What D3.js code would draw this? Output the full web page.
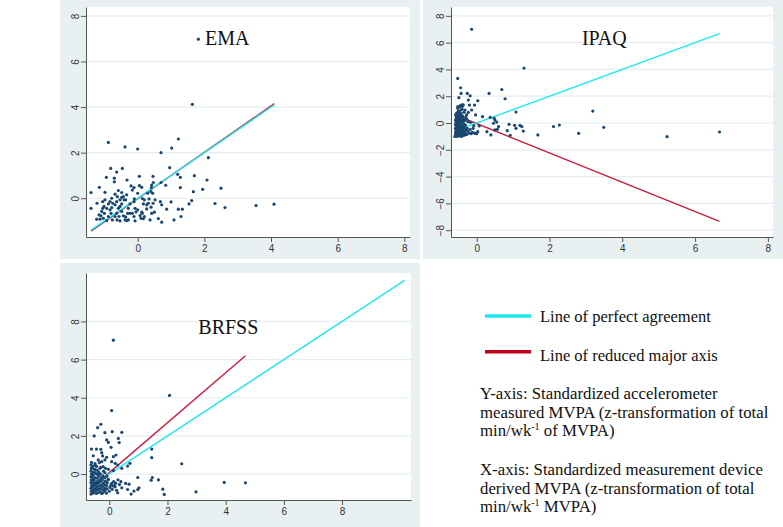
<!DOCTYPE html>
<html>
<head>
<meta charset="utf-8">
<script src="https://d3js.org/d3.v7.min.js"></script>
<style>
  body { margin: 0; background: #fff; }
  svg { display: block; }
</style>
<title>MVPA agreement</title>
</head>
<body>
<script>
// ---- data ----
var emaPoints = [
  [1.82,6.98],[1.64,4.12],[-0.88,2.45],[-0.38,2.25],[0,2.16],[0.70,2.0],[1.02,2.2],[1.22,2.6],
  [2.12,1.78],[0.96,1.34],[-0.81,1.31],[-0.46,1.31],[-0.63,1.15],[-0.94,0.92],[-0.70,0.88],
  [-0.70,0.72],[-0.32,0.8],[0.05,0.96],[0.46,0.96],[1.2,1.05],[1.28,0.92],[1.7,0.99],[2.08,0.8],
  [2.5,0.44],[1.95,0.39],[1.67,0.29],[1.28,0.47],[-1.15,0.48],[-0.98,0.26],[-1.4,0.25],[-1.4,-0.44],
  [-1.22,-0.22],[2.32,-0.23],[2.62,-0.41],[3.55,-0.32],[4.09,-0.26],[1.62,-0.1],[1.54,-0.25],
  [1.22,-0.48],[1.34,-0.48],[1.3,-0.8],[1.09,-0.95],[1.0,-0.16],[0.87,-0.48],[0.72,-1.05],
  [0.62,-0.89],[0.37,-0.95],[0.42,-0.66],[0.68,-0.15],[0.72,-0.29],[0.84,0.57],[0.7,0.69],
  [0.42,0.58],[0.47,0.69],[0.41,0.47],[0.4,0.29],[0.45,0.22],[0.3,0.22],[0.12,0.48],[0.05,0.55],
  [-0.11,0.47],[-0.16,0.36],[-0.2,0.54],[0,0.22],[-0.1,-0.03],[0.14,-0.01],[0.2,-0.07],[0.34,-0.03],
  [0.32,-0.22],[0.46,-0.22],[0.5,-0.61],[0.27,-0.47],[0.12,-0.61],[0.07,-0.76],[0.1,-0.88],
  [0.17,-0.9],[0,-0.51],[-0.08,-0.44],[-0.05,-0.6],[-0.16,-0.66],[-0.11,-0.15],[-0.23,-0.25],
  [-0.28,-0.44],[-0.3,-0.66],[-0.36,-0.82],[-0.38,-0.95],[-0.33,-0.98],[-0.43,-0.77],[-0.48,-0.58],
  [-0.53,-0.36],[-0.41,-0.07],[-0.43,0.07],[-0.48,0.25],[-0.48,0.04],[-0.53,-0.07],[-0.58,0.34],
  [-0.68,0.18],[-0.61,0.07],[-0.63,-0.15],[-0.68,-0.29],[-0.58,-0.44],[-0.63,-0.66],[-0.68,-0.8],
  [-0.56,-0.8],[-0.75,-0.22],[-0.78,-0.41],[-0.8,-0.66],[-0.76,-0.95],[-0.88,-0.8],[-0.83,-0.51],
  [-0.88,-0.25],[-0.93,-0.44],[-0.98,-0.07],[-1.0,-0.66],[-1.05,-0.44],[-1.08,-0.58],[-1.1,-0.77],
  [-1.13,-0.92],[-1.16,-0.73],[-1.03,-0.88],[-0.93,-0.98],[-1.01,-0.36],[-1.05,-0.15],[-0.83,-0.15],
  [-0.78,0],[-0.48,-0.25],[-0.33,0.15],[-0.36,-0.07],[-0.23,-0.66],[-0.11,-0.8],[-0.08,-0.99],
  [-0.53,-0.99],[-0.62,-0.95],[-1.23,-0.92],[-0.28,-0.95],[0.14,-0.66],[0.27,-0.29],[0.52,-0.07],
  [0.2,-0.8],[0.4,-0.39],[0.17,-0.25]
];

var ipaqPoints = [
  [-0.14,7.0],[1.3,4.1],[-0.52,3.33],[-0.44,2.63],[-0.43,2.21],[-0.26,2.21],[-0.18,2.03],[0.34,2.21],
  [0.69,2.5],[0.78,1.81],[-0.49,1.89],[-0.23,1.71],[0.03,1.66],[-0.2,1.34],[-0.06,1.34],[-0.39,1.27],
  [-0.52,1.22],[-0.46,1.22],[-0.32,0.97],[-0.14,0.97],[-0.43,0.97],[1.08,0.82],[3.19,0.89],
  [-0.23,0.79],[-0.28,0.6],[-0.03,0.6],[0.16,0.47],[0.37,0.42],[0.48,0.35],[0.5,0.22],[0.46,-0.02],
  [0.55,0.07],[0.07,-0.22],[0.03,-0.65],[-0.05,-0.77],[0.28,-0.65],[0.39,-0.89],[0.5,-0.52],
  [0.57,-0.47],[0.6,-0.27],[0.84,-0.57],[0.89,-0.1],[0.92,-0.92],[1.04,-0.17],[1.08,-0.4],
  [1.19,-0.17],[1.24,-0.27],[1.28,-0.6],[1.68,-0.89],[2.11,-0.27],[2.27,-0.15],[2.8,-0.77],
  [3.49,-0.32],[5.23,-1.02],[6.67,-0.67],
  [-0.6,-1.0],[-0.58,-0.9],[-0.57,-0.8],[-0.58,-0.7],[-0.56,-0.6],[-0.57,-0.5],[-0.58,-0.4],
  [-0.56,-0.3],[-0.57,-0.2],[-0.58,-0.1],[-0.57,0.0],[-0.56,0.1],[-0.58,0.2],[-0.57,0.3],
  [-0.56,0.45],[-0.58,0.6],[-0.55,0.75],[-0.53,-1.0],[-0.52,-0.85],[-0.53,-0.72],[-0.51,-0.6],
  [-0.52,-0.45],[-0.53,-0.35],[-0.51,-0.22],[-0.52,-0.05],[-0.53,0.08],[-0.5,0.2],[-0.52,0.35],
  [-0.51,0.5],[-0.53,0.65],[-0.5,0.9],[-0.52,1.1],[-0.48,-0.95],[-0.47,-0.8],[-0.46,-0.65],
  [-0.48,-0.5],[-0.47,-0.3],[-0.46,-0.15],[-0.48,0.0],[-0.47,0.15],[-0.45,0.3],[-0.47,0.45],
  [-0.46,0.6],[-0.48,0.8],[-0.45,1.3],[-0.43,-1.0],[-0.42,-0.88],[-0.41,-0.7],[-0.43,-0.55],
  [-0.42,-0.4],[-0.41,-0.25],[-0.43,-0.1],[-0.42,0.05],[-0.4,0.2],[-0.42,0.4],[-0.41,0.55],
  [-0.43,0.7],[-0.4,1.05],[-0.41,1.35],[-0.38,-0.95],[-0.37,-0.78],[-0.36,-0.6],[-0.38,-0.42],
  [-0.37,-0.28],[-0.35,-0.1],[-0.37,0.1],[-0.36,0.3],[-0.38,0.5],[-0.35,0.8],[-0.37,1.35],
  [-0.33,-0.9],[-0.32,-0.7],[-0.3,-0.5],[-0.33,-0.35],[-0.31,-0.15],[-0.32,0.2],[-0.3,0.45],
  [-0.27,-0.85],[-0.25,-0.6],[-0.26,-0.4],[-0.24,0.1],[-0.27,0.3],[-0.2,-0.75],[-0.18,-0.5],
  [-0.15,-0.8],[-0.12,-0.7],[-0.1,-0.4],[-0.05,-0.75],[0.0,-0.8],[-0.08,-0.2],[-0.17,0.05]
];

var brfssPoints = [
  [0.14,7.02],[2.07,4.12],[0.08,3.33],[-0.29,2.61],[-0.4,2.43],[-0.52,2.0],[-0.15,2.17],[0.1,2.22],
  [0.43,2.19],[-0.09,1.79],[-0.03,1.66],[0.31,1.87],[0.34,1.65],[0.06,1.4],[-0.61,1.31],[-0.44,1.31],
  [-0.29,1.3],[-0.26,1.12],[1.46,1.31],[1.46,0.86],[-0.55,0.96],[-0.23,0.95],[-0.09,0.88],[0.14,0.91],
  [0.23,1.0],[-0.38,0.74],[-0.26,0.65],[-0.15,0.74],[0.08,0.65],[0.2,0.56],[0.29,0.47],[0.71,0.56],
  [0.63,0.42],[2.49,0.54],[0.43,0.3],[-0.61,0.61],[-0.63,0.47],[-0.49,0.47],[-0.57,0.3],[-0.47,0.21],
  [-0.32,0.3],[-0.21,0.39],[-0.03,0.25],[0.14,0.18],[-0.15,0.07],[-0.38,0],[-0.55,-0.05],[0.98,-0.18],
  [1.48,-0.18],[1.44,-0.32],[1.69,-0.3],[0.4,-0.4],[0.56,-0.49],[0.68,-0.53],[0.43,-0.72],[0.63,-0.81],
  [0.75,-1.05],[0.29,-0.98],[0.85,-0.89],[0.98,-0.81],[1.02,-0.72],[1.84,-0.79],[1.89,-1.07],
  [2.98,-0.93],[3.95,-0.44],[4.68,-0.46],[-0.03,-0.28],[0.08,-0.49],[0.2,-0.67],[-0.15,-0.84],
  [-0.26,-1.02],
  [-0.63,-1.05],[-0.62,-0.9],[-0.63,-0.75],[-0.61,-0.6],[-0.63,-0.45],[-0.62,-0.3],[-0.63,-0.15],
  [-0.61,0.0],[-0.63,0.15],[-0.62,0.3],[-0.57,-1.0],[-0.56,-0.85],[-0.58,-0.7],[-0.55,-0.55],
  [-0.57,-0.4],[-0.56,-0.25],[-0.58,-0.1],[-0.55,0.1],[-0.57,0.4],[-0.52,-0.95],[-0.5,-0.78],
  [-0.51,-0.62],[-0.49,-0.48],[-0.52,-0.33],[-0.5,-0.18],[-0.48,0.05],[-0.5,0.25],[-0.49,0.55],
  [-0.45,-1.02],[-0.44,-0.86],[-0.43,-0.7],[-0.45,-0.55],[-0.42,-0.4],[-0.44,-0.22],[-0.43,0.0],
  [-0.41,0.2],[-0.44,0.4],[-0.38,-0.98],[-0.37,-0.8],[-0.36,-0.63],[-0.38,-0.48],[-0.35,-0.3],
  [-0.37,-0.12],[-0.36,0.1],[-0.34,0.6],[-0.31,-0.92],[-0.3,-0.75],[-0.29,-0.58],[-0.31,-0.4],
  [-0.28,-0.2],[-0.3,0.0],[-0.29,0.35],[-0.24,-1.0],[-0.22,-0.82],[-0.23,-0.65],[-0.21,-0.48],
  [-0.24,-0.3],[-0.22,-0.1],[-0.2,0.15],[-0.17,-0.9],[-0.15,-0.72],[-0.16,-0.55],[-0.14,-0.38],
  [-0.16,-0.2],[-0.13,0.3],[-0.1,-1.0],[-0.08,-0.78],[-0.09,-0.6],[-0.07,-0.45],[-0.05,-0.3],
  [-0.08,-0.12],[0.0,-0.9],[0.02,-0.7],[0.05,-0.58],[0.1,-0.8],[0.12,-0.62],[0.15,-0.4],
  [0.18,-0.6],[0.22,-0.48],[0.25,-0.85],[0.3,-0.3],[0.35,-0.55]
];

// line endpoints [[x1,y1],[x2,y2]]
var emaAgree = [[-1.4,-1.4],[4.1,4.1]];
var emaRma = [[-1.4,-1.44],[4.1,4.15]];
var ipaqAgree = [[-0.57,-0.57],[6.67,6.67]];
var ipaqRma = [[-0.57,0.58],[6.67,-7.35]];
var brfssAgree = [[-0.65,-0.65],[10.15,10.15]];
var brfssRma = [[-0.63,-0.75],[4.68,6.2]];

var xTicks = [0, 2, 4, 6, 8];
var yTicksPos = [0, 2, 4, 6, 8];
var yTicksIpaq = [-8, -6, -4, -2, 0, 2, 4, 6, 8];

var legendLabels = ["Line of perfect agreement", "Line of reduced major axis"];

var width = 783, height = 527;
var bg = "#e9f0f2", grid = "#e6edf0", axisCol = "#555";
var cyan = "#1fe6ef", red = "#c81e3c", navy = "#1a476f";

var svg = d3.select("body").append("svg")
  .attr("width", width).attr("height", height);

function drawPanel(p) {
  var g = svg.append("g");
  g.append("rect").attr("x", p.box[0]).attr("y", p.box[1])
    .attr("width", p.box[2]).attr("height", p.box[3]).attr("fill", bg);

  var x = d3.scaleLinear().domain(p.xDom).range([p.left, p.right]);
  var y = d3.scaleLinear().domain(p.yDom).range([p.bottom, p.top]);

  g.append("rect").attr("x", p.left).attr("y", p.top)
    .attr("width", p.right - p.left).attr("height", p.bottom - p.top).attr("fill", "#fff");

  // gridlines
  g.selectAll(".grid").data(p.yTicks).enter().append("line")
    .attr("x1", p.left).attr("x2", p.right)
    .attr("y1", function(d) { return y(d); }).attr("y2", function(d) { return y(d); })
    .attr("stroke", grid).attr("stroke-width", 1.2);

  var xa = g.append("g").attr("transform", "translate(0," + p.bottom + ")")
    .call(d3.axisBottom(x).tickValues(xTicks).tickSize(5).tickSizeOuter(0).tickPadding(3));
  var ya = g.append("g").attr("transform", "translate(" + p.left + ",0)")
    .call(d3.axisLeft(y).tickValues(p.yTicks).tickSize(5).tickSizeOuter(0));

  [xa, ya].forEach(function(a) {
    a.selectAll("path, line").attr("stroke", axisCol);
    a.selectAll("text").attr("fill", "#333")
      .style("font-family", "'Liberation Sans', Arial, sans-serif").style("font-size", "10px");
  });
  ya.selectAll("text")
    .attr("x", 0).attr("dy", 0).attr("text-anchor", "middle")
    .attr("transform", "translate(-7,0) rotate(-90)");

  var line = d3.line().x(function(d) { return x(d[0]); }).y(function(d) { return y(d[1]); });
  g.append("path").datum(p.rma).attr("d", line)
    .attr("stroke", red).attr("stroke-width", 1.4).attr("fill", "none");
  g.append("path").datum(p.agree).attr("d", line)
    .attr("stroke", cyan).attr("stroke-width", 1.4).attr("fill", "none");

  g.selectAll(".pt").data(p.points).enter().append("circle")
    .attr("cx", function(d) { return x(d[0]); })
    .attr("cy", function(d) { return y(d[1]); })
    .attr("r", 1.6).attr("fill", navy);

  g.append("text").attr("x", x(p.title[1])).attr("y", y(p.title[2]))
    .text(p.title[0])
    .style("font-family", "'Liberation Serif', 'Times New Roman', serif")
    .style("font-size", "20px").attr("fill", "#111");
}

drawPanel({
  box: [60, 0, 360, 259], left: 86, right: 410, top: 7, bottom: 237,
  xDom: [-1.551, 8.17], yDom: [-1.70, 8.39],
  yTicks: yTicksPos, points: emaPoints, agree: emaAgree, rma: emaRma,
  title: ["EMA", 2.02, 6.72]
});
drawPanel({
  box: [423, 0, 360, 259], left: 451, right: 773, top: 7, bottom: 237,
  xDom: [-0.706, 8.14], yDom: [-8.51, 8.66],
  yTicks: yTicksIpaq, points: ipaqPoints, agree: ipaqAgree, rma: ipaqRma,
  title: ["IPAQ", 2.89, 5.82]
});
drawPanel({
  box: [60, 263, 360, 264], left: 86, right: 411, top: 273, bottom: 500,
  xDom: [-0.80, 10.37], yDom: [-1.36, 10.54],
  yTicks: yTicksPos, points: brfssPoints, agree: brfssAgree, rma: brfssRma,
  title: ["BRFSS", 3.06, 7.34]
});

// legend / notes
var serif = "'Liberation Serif', 'Times New Roman', serif";
var lg = svg.append("g").style("font-family", serif).style("font-size", "16.5px").attr("fill", "#111");
[cyan, "#c00018"].forEach(function(c, i) {
  lg.append("line").attr("x1", 485).attr("x2", 531)
    .attr("y1", 316 + i * 35.7).attr("y2", 316 + i * 35.7)
    .attr("stroke", c).attr("stroke-width", 3.5);
  lg.append("text").attr("x", 540).attr("y", 321.7 + i * 39).text(legendLabels[i]);
});

function note(lines, y0) {
  lines.forEach(function(l, i) {
    var t = lg.append("text").attr("x", 480).attr("y", y0 + i * 18.5)
      .style("font-size", "16.8px");
    var back = 0;
    l.forEach(function(part) {
      if (typeof part === "object") {
        t.append("tspan").attr("dy", -6).style("font-size", "10px").text(part.raised);
        back = 6;
      } else {
        t.append("tspan").attr("dy", back).text(part);
        back = 0;
      }
    });
  });
}
note([["Y-axis: Standardized accelerometer"],
      ["measured MVPA (z-transformation of total"],
      ["min/wk", {raised: "-1"}, " of MVPA)"]], 399.3);
note([["X-axis: Standardized measurement device"],
      ["derived MVPA (z-transformation of total"],
      ["min/wk", {raised: "-1"}, " MVPA)"]], 475);
</script>
</body>
</html>
